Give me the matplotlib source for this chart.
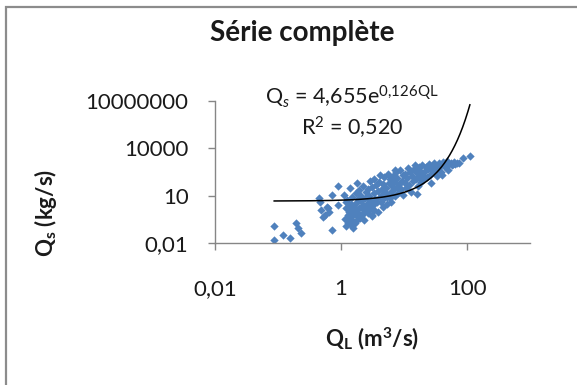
import matplotlib
matplotlib.use("Agg")
import matplotlib.pyplot as plt
from matplotlib.patches import Rectangle
import numpy as np

plt.rcParams['font.family'] = ['Lato', 'DejaVu Sans']
plt.rcParams['mathtext.fontset'] = 'custom'
plt.rcParams['mathtext.rm'] = 'Lato'
plt.rcParams['mathtext.it'] = 'Lato:italic'
plt.rcParams['mathtext.bf'] = 'Lato:bold'

# debit liquide QL (m3/s) et debit solide Qs (kg/s)
ql = [0.087, 0.087, 0.121, 0.155, 0.193, 0.204, 0.232, 0.44, 0.47, 0.49,
      0.52, 0.59, 0.63, 0.71, 0.71, 0.885, 0.89, 0.56, 0.65,
      1.15, 1.2, 1.22, 1.25, 1.28, 1.3, 1.32, 1.35, 1.38, 1.4,
      1.42, 1.45, 1.48, 1.5, 1.52, 1.55, 1.58, 1.6, 1.12, 1.18,
      1.65, 1.7, 1.72, 1.75, 1.8, 1.85, 1.88, 1.9, 1.95, 2.0,
      2.05, 2.1, 2.15, 2.2, 2.25, 2.3, 2.35, 2.4, 2.45, 2.5,
      1.68, 1.78, 2.02, 2.28,
      2.6, 2.65, 2.7, 2.8, 2.85, 2.9, 3.0, 3.05, 3.1, 3.2,
      3.3, 3.35, 3.4, 3.5, 3.6, 3.7, 3.8, 3.9, 4.0, 4.1,
      4.2, 4.3, 4.4, 4.5, 4.6, 4.7, 4.8, 4.9, 5.0, 2.75, 3.15,
      5.2, 5.4, 5.5, 5.7, 5.9, 6.0, 6.2, 6.4, 6.6, 6.8,
      7.0, 7.2, 7.4, 7.6, 7.8, 8.0, 8.3, 8.6, 8.9, 9.2,
      9.5, 9.8, 5.3, 6.1, 7.1,
      10.2, 10.5, 10.8, 11.0, 11.5, 12.0, 12.5, 13.0, 13.5, 14.0,
      14.5, 15.0, 15.5, 16.0, 16.5, 17.0, 17.5, 18.0, 18.5, 19.0,
      19.5, 20.0, 15.9,
      21, 22, 23, 24, 25, 26, 27, 28, 29, 30,
      32, 33, 35, 36, 38, 40, 39,
      42, 45, 47, 48, 50, 52, 55, 58, 60, 63, 64, 68.5, 75, 87, 111]
qs = [0.13, 0.016, 0.033, 0.022, 0.18, 0.089, 0.047, 6.9, 4.3, 1.26,
      0.48, 2.0, 1.6, 11, 0.069, 2.6, 44, 0.62, 1.0,
      0.35, 1.8, 0.12, 5.5, 0.6, 0.2, 2.4, 0.9, 30, 0.45,
      3.2, 0.15, 1.3, 8, 0.3, 0.09, 2.0, 0.7, 12, 4.0,
      1.1, 15, 0.25, 3.5, 0.5, 6, 0.8, 22, 1.6, 0.4,
      4.5, 9, 0.65, 2.8, 40, 1.2, 0.3, 7, 18, 2.2,
      0.18, 60, 11, 0.9,
      3, 25, 0.8, 10, 1.5, 90, 5, 0.5, 35, 2.5,
      14, 120, 1.2, 6, 45, 3.8, 20, 0.9, 70, 9,
      200, 4, 28, 12, 2, 55, 7, 150, 18, 6, 0.6,
      30, 8, 240, 60, 15, 110, 4, 40, 180, 22,
      75, 10, 300, 35, 130, 16, 55, 400, 25, 90,
      200, 12, 3, 7, 450,
      60, 250, 30, 140, 600, 45, 320, 18, 170, 80,
      500, 885, 110, 260, 40, 700, 150, 380, 70, 220,
      900, 120, 12.4,
      300, 700, 150, 480, 1000, 220, 61, 600, 350, 1200,
      800, 180, 500, 1100, 300, 208, 900,
      1300, 700, 1130, 1500, 400, 1000, 1200, 900, 1020, 1300, 1000, 1130, 1200, 2340, 3100]

# courbe de tendance exponentielle affichee
coef_a = 4.655
coef_b = 0.126

fig = plt.figure(figsize=(5.77, 3.85), dpi=100)
ax = fig.add_axes([0.3726, 0.368, 0.546, 0.3704])

ax.scatter(ql, qs, marker='D', s=18, color='#4F81BD', linewidths=0, zorder=2)
xf = np.geomspace(min(ql), max(ql), 300)
ax.plot(xf, coef_a * np.exp(coef_b * xf), color='black', lw=1.1, zorder=3)

ax.set_xscale('log')
ax.set_yscale('log')
ax.set_xlim(0.01, 1000)
ax.set_ylim(0.01, 1e7)
ax.set_xticks([0.01, 1, 100])
ax.set_xticklabels(['0,01', '1', '100'])
ax.set_yticks([0.01, 10, 1e4, 1e7])
ax.set_yticklabels(['0,01', '10', '10000', '10000000'])
ax.minorticks_off()
for s in ['top', 'right']:
    ax.spines[s].set_visible(False)
for s in ['left', 'bottom']:
    ax.spines[s].set_color('#868686')
    ax.spines[s].set_linewidth(1.0)
ax.tick_params(axis='both', colors='#868686', length=5, width=1.0,
               labelsize=16, labelcolor='#1a1a1a')
ax.tick_params(axis='x', pad=21)
ax.tick_params(axis='y', pad=14)
ax.patch.set_alpha(0)

ax.text(0.435, 1.026, r'Q$_{s}$ = 4,655e$^{\mathregular{0{,}126QL}}$', transform=ax.transAxes,
        ha='center', va='center', fontsize=15.5, color='#1a1a1a')
ax.text(0.435, 0.808, r'R$^{\mathregular{2}}$ = 0,520', transform=ax.transAxes,
        ha='center', va='center', fontsize=15.5, color='#1a1a1a')

fig.text(302 / 577, 1 - 33 / 385, 'Série complète', ha='center', va='center',
         fontsize=20, fontweight='bold', color='#1a1a1a')
fig.text(372 / 577, 1 - 339 / 385, r'Q$_\mathbf{L}$ (m$^\mathbf{3}$/s)', ha='center', va='center',
         fontsize=16, fontweight='bold', color='#1a1a1a')
fig.text(46 / 577, 1 - 213 / 385, r'Q$_\mathbf{s}$ (kg/s)', ha='center', va='center',
         rotation=90, fontsize=16, fontweight='bold', color='#1a1a1a')

# cadre du graphique
fig.patches.append(Rectangle((6 / 577, -0.1), 1.2, 1 - 7 / 385 + 0.1,
                             transform=fig.transFigure, fill=False,
                             edgecolor='#8c8c8c', linewidth=1.6))

fig.savefig('out.png', dpi=100)
